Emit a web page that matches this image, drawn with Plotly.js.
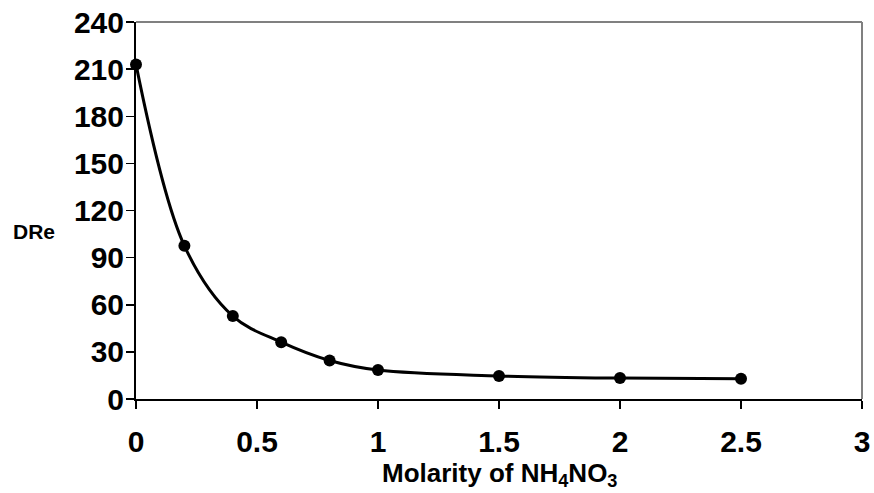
<!DOCTYPE html>
<html>
<head>
<meta charset="utf-8">
<script src="https://cdn.plot.ly/plotly-3.0.1.min.js"></script>
<style>html,body{margin:0;padding:0;background:#fff;}#chart{width:874px;height:493px;}</style>
</head>
<body>
<div id="chart"></div>
<script>
var molarity = [0, 0.2, 0.4, 0.6, 0.8, 1.0, 1.5, 2.0, 2.5];
var dre = [213, 97.5, 52.8, 36.2, 24.5, 18.4, 14.7, 13.3, 12.9];
var xTicks = [0, 0.5, 1, 1.5, 2, 2.5, 3];
var yTicks = [0, 30, 60, 90, 120, 150, 180, 210, 240];
var xTitle = 'Molarity of NH<sub>4</sub>NO<sub>3</sub>';
var yTitle = 'DRe';

var FONT = 'Liberation Sans, Arial, sans-serif';

var trace = {
  x: molarity, y: dre, type: 'scatter', mode: 'lines+markers',
  line: {color: '#000', width: 3, shape: 'spline', smoothing: 1},
  marker: {color: '#000', size: 12},
  cliponaxis: false, hoverinfo: 'none'
};

var layout = {
  width: 874, height: 493,
  margin: {l: 136, r: 12, t: 22, b: 94},
  paper_bgcolor: '#fff', plot_bgcolor: '#fff',
  showlegend: false,
  font: {family: FONT, color: '#000'},
  xaxis: {
    range: [0, 3], tickvals: xTicks, ticktext: xTicks.map(String),
    showgrid: false, zeroline: false, showline: true, linecolor: '#000', linewidth: 2,
    ticks: 'outside', ticklen: 8, tickwidth: 1.5, tickcolor: '#000',
    ticklabelstandoff: 7,
    tickfont: {family: FONT, size: 30, color: '#000', weight: 'bold'}
  },
  yaxis: {
    range: [0, 240], tickvals: yTicks, ticktext: yTicks.map(String),
    showgrid: false, zeroline: false, showline: true, linecolor: '#000', linewidth: 2,
    ticks: 'outside', ticklen: 8, tickwidth: 1.5, tickcolor: '#000',
    ticklabelstandoff: -4,
    tickfont: {family: FONT, size: 30, color: '#000', weight: 'bold'}
  },
  shapes: [
    {type: 'line', xref: 'paper', yref: 'paper', x0: 0, x1: 1, y0: 1, y1: 1, line: {color: '#808080', width: 2}},
    {type: 'line', xref: 'paper', yref: 'paper', x0: 1, x1: 1, y0: 0, y1: 1, line: {color: '#808080', width: 2}}
  ],
  annotations: [
    {text: '<b>' + xTitle + '</b>', xref: 'paper', yref: 'paper', x: 0.5, y: -0.2, xanchor: 'center', yanchor: 'middle', showarrow: false,
     font: {family: FONT, size: 26, color: '#000'}},
    {text: '<b>' + yTitle + '</b>', xref: 'paper', yref: 'paper', x: -0.141, y: 0.445, xanchor: 'center', yanchor: 'middle', showarrow: false,
     font: {family: FONT, size: 21, color: '#000'}}
  ]
};

Plotly.newPlot('chart', [trace], layout, {staticPlot: true, displayModeBar: false});
</script>
</body>
</html>
